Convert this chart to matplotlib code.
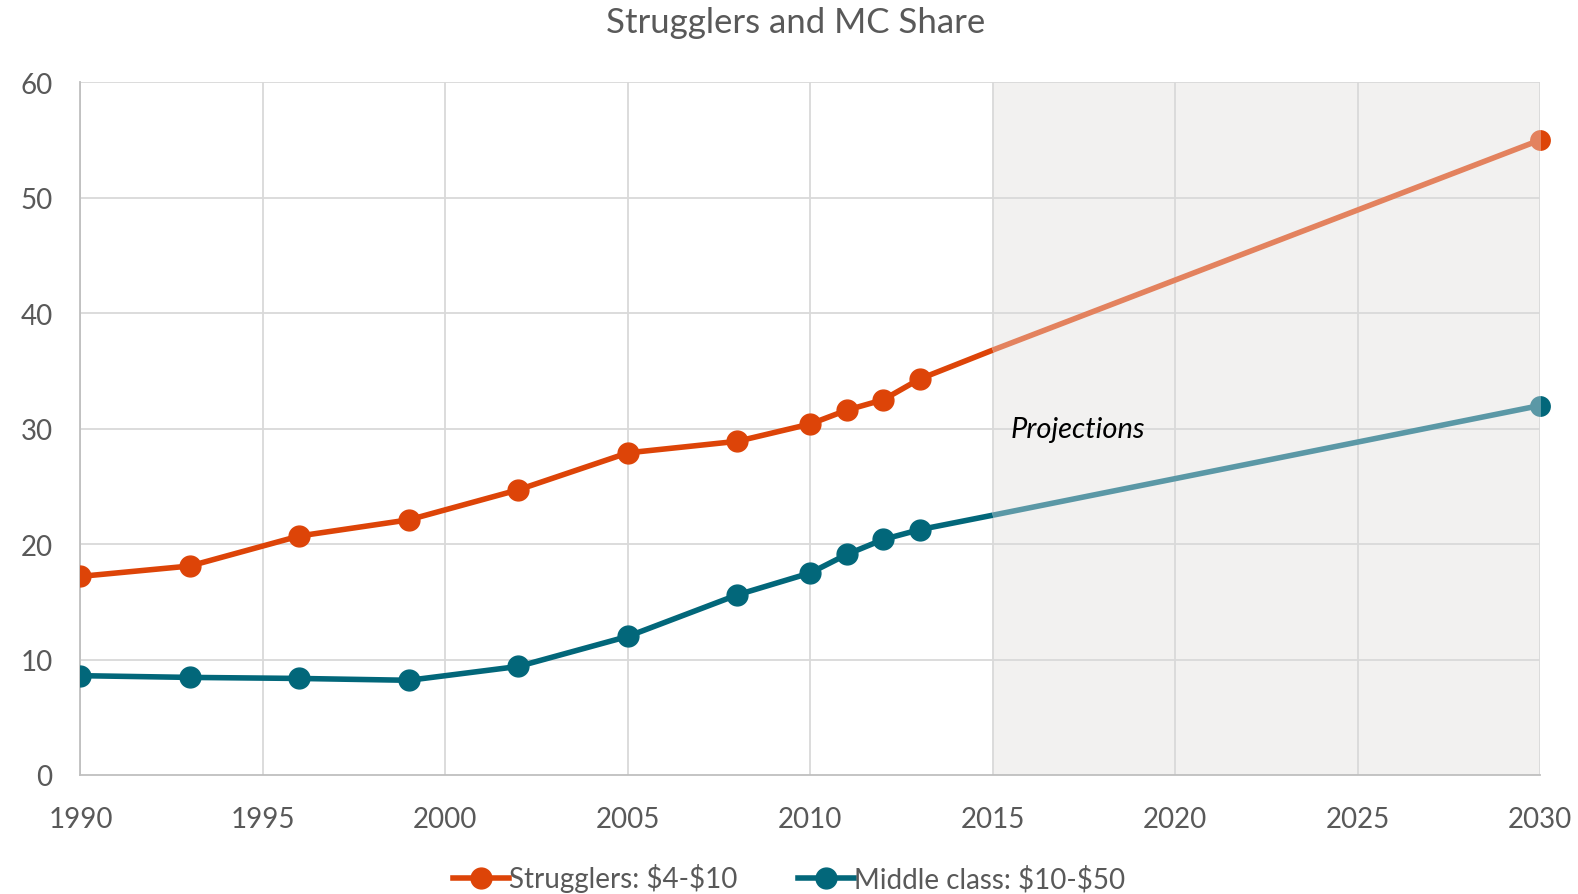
import numpy as np
import matplotlib
matplotlib.use("Agg")
import matplotlib.pyplot as plt
from matplotlib.lines import Line2D

# dados observados
anos = [1990, 1993, 1996, 1999, 2002, 2005, 2008, 2010, 2011, 2012, 2013]
strugglers = [17.2, 18.1, 20.7, 22.1, 24.7, 27.9, 28.9, 30.4, 31.6, 32.5, 34.3]
middle_class = [8.6, 8.45, 8.36, 8.2, 9.4, 12.0, 15.6, 17.5, 19.1, 20.4, 21.25]

# projeções
anos_proj = [2015, 2030]
strugglers_proj = [36.8, 55.0]
middle_proj = [22.5, 32.0]

x_ticks = [1990, 1995, 2000, 2005, 2010, 2015, 2020, 2025, 2030]
y_ticks = [0, 10, 20, 30, 40, 50, 60]

COR_STR = "#DD4408"
COR_STR_CLARA = "#E3825E"
COR_MC = "#02677A"
COR_MC_CLARA = "#5B98A6"
CINZA = "#595959"
MS = 15
LW = 4

plt.rcParams["font.family"] = ["Lato", "DejaVu Sans"]

fig = plt.figure(figsize=(15.78, 8.95), dpi=100)
ax = fig.add_axes([0.051, 0.133, 0.925, 0.774])

ax.axvspan(2015, 2030, color="#F2F1F0", zorder=0)

for x in x_ticks:
    ax.axvline(x, color="#D9D9D9", lw=1.3, zorder=1)
for y in y_ticks[1:]:
    ax.axhline(y, color="#D9D9D9", lw=1.3, zorder=1)

# linhas observadas (ligam até 2015 sem marcador)
ax.plot(anos + [anos_proj[0]], strugglers + [strugglers_proj[0]],
        color=COR_STR, lw=LW, zorder=3, solid_capstyle="butt")
ax.plot(anos, strugglers, "o", color=COR_STR, ms=MS, zorder=4)
ax.plot(anos + [anos_proj[0]], middle_class + [middle_proj[0]],
        color=COR_MC, lw=LW, zorder=3, solid_capstyle="butt")
ax.plot(anos, middle_class, "o", color=COR_MC, ms=MS, zorder=4)

# projeções
ax.plot(anos_proj, strugglers_proj, color=COR_STR_CLARA, lw=LW, zorder=3,
        solid_capstyle="butt")
ax.plot(anos_proj[-1:], strugglers_proj[-1:], "o", ms=MS, fillstyle="left",
        markerfacecolor=COR_STR_CLARA, markerfacecoloralt=COR_STR,
        markeredgewidth=0, zorder=4, clip_on=False)
ax.plot(anos_proj, middle_proj, color=COR_MC_CLARA, lw=LW, zorder=3,
        solid_capstyle="butt")
ax.plot(anos_proj[-1:], middle_proj[-1:], "o", ms=MS, fillstyle="left",
        markerfacecolor=COR_MC_CLARA, markerfacecoloralt=COR_MC,
        markeredgewidth=0, zorder=4, clip_on=False)

ax.text(2015.5, 30, "Projections", fontsize=21, style="italic",
        color="black", va="center", ha="left", zorder=5)

ax.set_xlim(1990, 2030)
ax.set_ylim(0, 60)
ax.set_xticks(x_ticks)
ax.set_yticks(y_ticks)
ax.tick_params(length=0, labelsize=20, labelcolor=CINZA)
ax.tick_params(axis="x", pad=22)
ax.tick_params(axis="y", pad=20)
for lado in ["top", "right"]:
    ax.spines[lado].set_visible(False)
for lado in ["left", "bottom"]:
    ax.spines[lado].set_color("#BFBFBF")
    ax.spines[lado].set_linewidth(1.3)

fig.text(0.5045, 0.974, "Strugglers and MC Share", ha="center", va="center",
         fontsize=25, color=CINZA)

handles = [
    Line2D([], [], color=COR_STR, lw=LW, marker="o", ms=MS),
    Line2D([], [], color=COR_MC, lw=LW, marker="o", ms=MS),
]
fig.legend(handles, [r"Strugglers: \$4-\$10", r"Middle class: \$10-\$50"],
           loc="center", bbox_to_anchor=(0.5, 0.018), ncol=2, frameon=False,
           fontsize=20, labelcolor=CINZA, handlelength=2.0, handletextpad=0.0,
           columnspacing=2.2)

fig.savefig("out.png", dpi=100)
